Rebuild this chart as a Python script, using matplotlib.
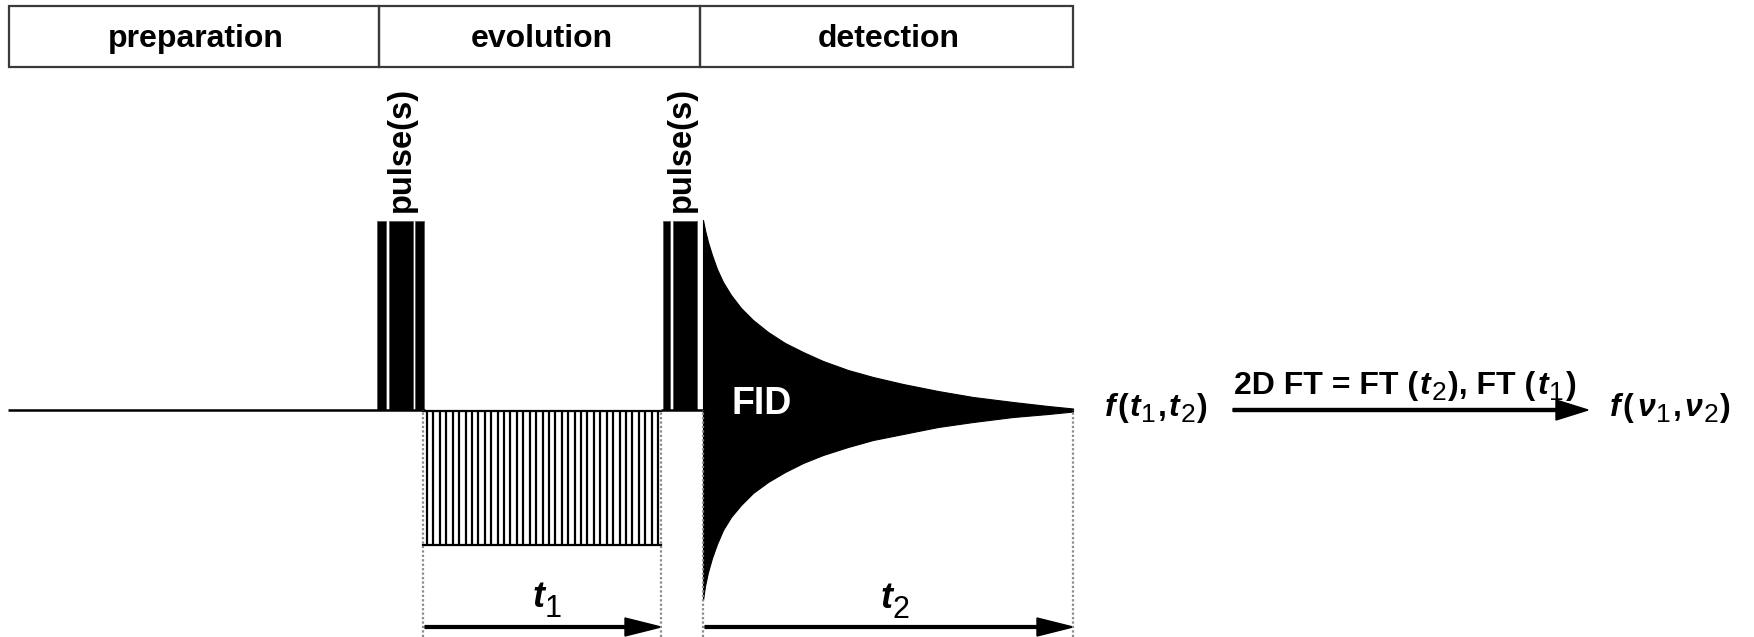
import matplotlib

matplotlib.use("Agg")

import matplotlib.pyplot as plt
from matplotlib import patches
import numpy as np

plt.rcParams["font.family"] = ["Liberation Sans", "DejaVu Sans"]

INK = "#000000"
EDGE = "#3a3a3a"
DOT = "#8a8a8a"

# schematic timeline: x = time axis, y = signal amplitude (baseline at 0)
phase_labels = ["preparation", "evolution", "detection"]
phase_edges = [9, 379, 700, 1073]
pulse1_bars = [(377, 386), (389, 413), (415, 424)]
pulse2_bars = [(663, 670), (673, 697)]
pulse_height = 189
t1_window = (423, 661)
t1_depth = 135
n_increments = 37
t2_window = (703, 1073)

# FID envelope (time after second pulse, amplitude)
fid_t = [0, 2, 5, 9, 14, 20, 28, 38, 50, 65, 82, 100, 120, 145, 170, 200, 235, 270, 310, 345, 370]
fid_upper = [190, 180, 168, 155, 141, 128, 115, 102, 90, 78, 67, 58, 49, 40, 33, 26, 19, 13, 8, 4, 1.5]
fid_lower = [190, 176, 162, 148, 134, 120, 107, 95, 83, 72, 62, 53, 45, 37, 30, 24, 17, 12, 7, 4, 1.5]


def rich_text(ax, x, y, parts, ha="left"):
    """parts: (text, size, style, weight, dy, gap)"""
    renderer = ax.figure.canvas.get_renderer()
    items = []
    cur = x
    for s, size, style, weight, dy, gap in parts:
        t = ax.text(cur, y + dy, s, fontsize=size, fontstyle=style, fontweight=weight,
                    ha="left", va="baseline", color=INK)
        cur += t.get_window_extent(renderer).width + gap
        items.append(t)
    if ha == "center":
        shift = (cur - x) / 2
        for t in items:
            px, py = t.get_position()
            t.set_position((px - shift, py))
    return items


fig = plt.figure(figsize=(17.54, 6.37), dpi=100, facecolor="white")
ax = fig.add_axes([0, 0, 1, 1])
ax.set_xlim(0, 1754)
ax.set_ylim(-227, 410)
ax.axis("off")

# header boxes
for label, x0, x1 in zip(phase_labels, phase_edges[:-1], phase_edges[1:]):
    ax.add_patch(patches.Rectangle((x0, 343), x1 - x0, 61, fill=False, ec=EDGE, lw=1.6))
    ax.text((x0 + x1) / 2 + 2, 371, label, ha="center", va="center", fontsize=23,
            fontweight="bold", color=INK)

# baseline
ax.plot([8, t1_window[0] + 2], [0, 0], color=INK, lw=1.8, solid_capstyle="butt")
ax.plot([t1_window[1], t2_window[0]], [0, 0], color=INK, lw=1.8, solid_capstyle="butt")

# pulses
for bars in (pulse1_bars, pulse2_bars):
    for a, b in bars:
        ax.add_patch(patches.Rectangle((a, 0), b - a, pulse_height, fc=INK, ec="#555555", lw=0.6))
    mid = (bars[0][0] + bars[-1][1]) / 2
    ax.text(mid + 1, pulse_height + 9, "pulse(s)", rotation=90, ha="center", va="bottom",
            fontsize=23.5, fontweight="bold", color=INK)

# evolution increments
xs = np.linspace(t1_window[0] + 4, t1_window[1] - 3, n_increments)
ax.vlines(xs, -t1_depth, -1, color=INK, lw=1.6)
ax.plot(t1_window, [-1, -1], color=INK, lw=1.6)
ax.plot(t1_window, [-t1_depth, -t1_depth], color=INK, lw=1.6)

# dotted guides
ax.vlines([t1_window[0], t1_window[1], t2_window[0], t2_window[1]], -227, 0,
          color=DOT, lw=1.6, linestyles=(0, (1, 1)))

# FID
fx = t2_window[0] + np.array(fid_t)
ax.fill_between(fx, -np.array(fid_lower), np.array(fid_upper), color=INK, lw=0.8)
ax.text(762, 6, "FID", ha="center", va="center", fontsize=27, fontweight="bold", color="white")

# time arrows
for (a, b) in (t1_window, t2_window):
    ax.arrow(a + 2, -217, b - a - 2, 0, width=2.8, head_width=18, head_length=36,
             length_includes_head=True, fc=INK, ec=INK)

rich_text(ax, 532, -197, [("t", 26, "italic", "bold", 0, 1), ("1", 22, "normal", "normal", -10, 0)])
rich_text(ax, 880, -198, [("t", 26, "italic", "bold", 0, 1), ("2", 22, "normal", "normal", -10, 0)])

# transform arrow
ax.arrow(1233, 0, 1588 - 1233, 0, width=3, head_width=20, head_length=32,
         length_includes_head=True, fc=INK, ec=INK)

rich_text(ax, 1105, -6, [
    ("f", 23, "italic", "bold", 0, 2), ("(", 23, "normal", "bold", 0, 1),
    ("t", 23, "italic", "bold", 0, 1), ("1", 19, "normal", "normal", -6, 2),
    (",", 23, "normal", "bold", 0, 2), ("t", 23, "italic", "bold", 0, 1),
    ("2", 19, "normal", "normal", -6, 2), (")", 23, "normal", "bold", 0, 0),
])

rich_text(ax, 1405, 16, [
    ("2D FT = FT (", 23, "normal", "bold", 0, 2), ("t", 23, "italic", "bold", 0, 1),
    ("2", 19, "normal", "normal", -6, 2), ("), FT (", 23, "normal", "bold", 0, 2),
    ("t", 23, "italic", "bold", 0, 1), ("1", 19, "normal", "normal", -6, 2),
    (")", 23, "normal", "bold", 0, 0),
], ha="center")

rich_text(ax, 1610, -6, [
    ("f", 23, "italic", "bold", 0, 2), ("(", 23, "normal", "bold", 0, 4),
    ("\u03bd", 23, "italic", "bold", 0, 1), ("1", 19, "normal", "normal", -6, 2),
    (",", 23, "normal", "bold", 0, 3), ("\u03bd", 23, "italic", "bold", 0, 1),
    ("2", 19, "normal", "normal", -6, 2), (")", 23, "normal", "bold", 0, 0),
])

fig.savefig("out.png", dpi=100, facecolor="white")
